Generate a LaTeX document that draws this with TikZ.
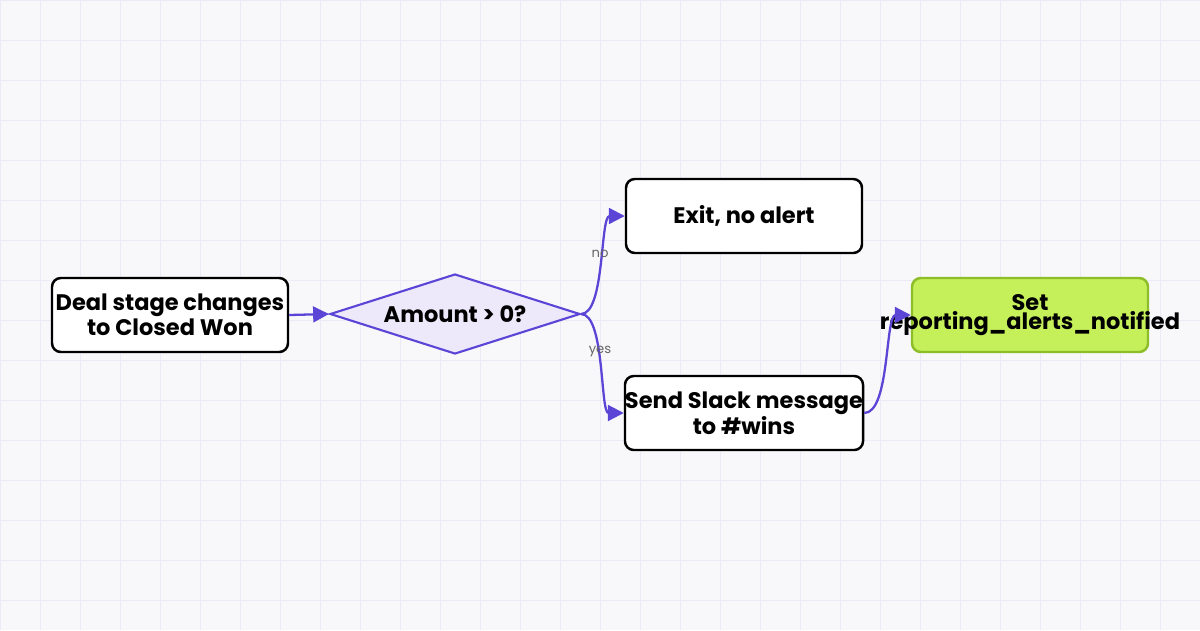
\documentclass[tikz,border=0pt]{standalone}
\usepackage{fontspec}
\setmainfont{Poppins}
\usetikzlibrary{shapes.geometric,arrows.meta}
\definecolor{canvas}{HTML}{F8F8FB}
\definecolor{gridline}{HTML}{ECEAF6}
\definecolor{flow}{HTML}{5B45D6}
\definecolor{diafill}{HTML}{EDE9FB}
\definecolor{setfill}{HTML}{C6F05A}
\definecolor{setdraw}{HTML}{8DBE2A}
\tikzset{
  step font/.style={font=\bfseries\fontsize{12.8}{10.6}\selectfont,align=center},
  step box/.style={draw=black,line width=1.4pt,rounded corners=5pt,fill=white,
    minimum width=236*0.02cm,minimum height=74*0.02cm,step font,inner sep=0pt},
  flow line/.style={draw=flow,line width=1.3pt,-{Triangle[length=9pt,width=9pt]}},
  edge label/.style={font=\fontsize{7.5}{8}\selectfont,text=black!60}
}
\begin{document}
\begin{tikzpicture}[x=0.02cm,y=-0.02cm]
\fill[canvas] (0,0) rectangle (1200,630);
\useasboundingbox (0,0) rectangle (1200,630);
\foreach \gx in {0,40,...,1200}
  \draw[gridline,line width=0.5pt] (\gx,0) -- (\gx,630);
\foreach \gy in {0,40,...,630}
  \draw[gridline,line width=0.5pt] (0,\gy) -- (1200,\gy);

% The nodes
\node[step box] (deal) at (170,315) {Deal stage changes\\to Closed Won};
\node[diamond,draw=flow,line width=1.2pt,fill=diafill,aspect=3.1,
  minimum width=250*0.02cm,minimum height=80*0.02cm,inner sep=0pt,
  step font] (amount) at (455,314) {};
\node[step font] (amounttext) at (amount.center) {Amount > 0?};
\node[step box] (exit) at (744,216) {Exit, no alert};
\node[step box] (send) at (744,413) {Send Slack message\\to \#wins};
\node[step box,draw=setdraw,fill=setfill] (set) at (1030,315) {};
\node[step font] (settext) at (set.center) {Set\\reporting\_alerts\_notified};

% The connectors
\draw[flow line] (deal.east) -- (amount.west);
\draw[flow line] (amount.east) .. controls (605,314) and (600,216) .. (exit.west);
\draw[flow line] (amount.east) .. controls (605,314) and (600,413) .. (send.west);
\draw[flow line] (send.east) .. controls (890,413) and (885,315) .. (set.west);
\node[edge label] (nolabel) at (600,254) {no};
\node[edge label] (yeslabel) at (600,352) {yes};
\end{tikzpicture}
\end{document}
